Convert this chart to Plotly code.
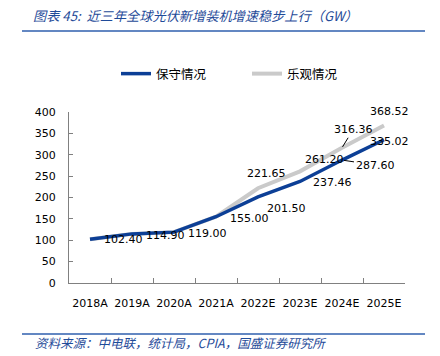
import plotly.graph_objects as go

categories = ["2018A", "2019A", "2020A", "2021A", "2022E", "2023E", "2024E", "2025E"]
conservative = [102.40, 114.90, 119.00, 155.00, 201.50, 237.46, 287.60, 335.02]
optimistic = [102.40, 114.90, 119.00, 155.00, 221.65, 261.20, 316.36, 368.52]
y_ticks = [0, 50, 100, 150, 200, 250, 300, 350, 400]

W, H = 440, 356
BLUE = "#0c3f96"
GRAY = "#cacaca"
TITLE_BLUE = "#1f4b99"
RULE = "#2f5fae"
FONT = "DejaVu Sans"
CJK = "Noto Sans CJK SC"

fig = go.Figure()
fig.add_trace(go.Scatter(x=categories, y=optimistic, mode="lines", name="乐观情况",
                         line=dict(color=GRAY, width=4)))
fig.add_trace(go.Scatter(x=categories, y=conservative, mode="lines", name="保守情况",
                         line=dict(color=BLUE, width=3.5)))

# decorative header/footer rules on a full-figure overlay axis (pixel units)
for yy in (31, 334):
    fig.add_trace(go.Scatter(x=[22, 425], y=[yy, yy], mode="lines", xaxis="x2", yaxis="y2",
                             line=dict(color=RULE, width=1.3), showlegend=False,
                             hoverinfo="skip"))

cons_off = [(33, 0), (33, -2), (33, -1), (33, -2), (28, -12), (32, -1), (33, -5), (5, -2)]
opt_off = [None, None, None, None, (8, 15), (24, 12), (11, 18), (5, 14)]

for i, (c, v) in enumerate(zip(categories, conservative)):
    dx, dy = cons_off[i]
    if c == "2024E":
        fig.add_annotation(x=c, y=v, text=f"{v:.2f}", showarrow=True, ax=dx, ay=-dy,
                           xanchor="center", yanchor="middle",
                           arrowhead=0, arrowwidth=1, arrowcolor="#000000", standoff=2,
                           font=dict(family=FONT, size=11, color="#000000"))
    else:
        fig.add_annotation(x=c, y=v, text=f"{v:.2f}", showarrow=False, xshift=dx, yshift=dy,
                           font=dict(family=FONT, size=11, color="#000000"))
for i, (c, v) in enumerate(zip(categories, optimistic)):
    if opt_off[i] is None:
        continue
    dx, dy = opt_off[i]
    if c == "2024E":
        fig.add_annotation(x=c, y=v, text=f"{v:.2f}", showarrow=True, ax=dx, ay=-dy,
                           xanchor="center", yanchor="middle",
                           arrowhead=0, arrowwidth=1, arrowcolor="#000000", standoff=1,
                           font=dict(family=FONT, size=11, color="#000000"))
    else:
        fig.add_annotation(x=c, y=v, text=f"{v:.2f}", showarrow=False, xshift=dx, yshift=dy,
                           font=dict(family=FONT, size=11, color="#000000"))

fig.add_annotation(xref="paper", yref="paper", x=31 / W, y=1 - 15 / H,
                   xanchor="left", yanchor="middle", showarrow=False,
                   text="图表 45:  近三年全球光伏新增装机增速稳步上行（GW）",
                   font=dict(family=CJK, size=13.2, color=TITLE_BLUE, style="italic"))
fig.add_annotation(xref="paper", yref="paper", x=33 / W, y=1 - 342 / H,
                   xanchor="left", yanchor="middle", showarrow=False,
                   text="资料来源：中电联，统计局，CPIA，国盛证券研究所",
                   font=dict(family=CJK, size=12.5, color=TITLE_BLUE, style="italic"))

fig.update_layout(
    width=W, height=H,
    margin=dict(l=0, r=0, t=0, b=0, pad=0, autoexpand=False),
    paper_bgcolor="white", plot_bgcolor="rgba(0,0,0,0)",
    font=dict(family=FONT, size=11, color="#000000"),
    showlegend=True,
    legend=dict(orientation="h", x=116 / W, y=1 - 74 / H,
                xanchor="left", yanchor="middle", traceorder="reversed",
                font=dict(family=CJK, size=12.5, color="#000000"),
                entrywidth=86, bgcolor="rgba(0,0,0,0)"),
    xaxis=dict(type="category", categoryarray=categories, range=[-0.5, 7.5],
               domain=[69 / W, 405 / W], anchor="y",
               showline=True, linecolor="#808080", linewidth=1, tickangle=0,
               ticks="inside", ticklen=5, tickcolor="#808080", tickson="boundaries",
               showgrid=False, zeroline=False, ticklabelstandoff=10, automargin=False,
               tickfont=dict(family=FONT, size=11)),
    yaxis=dict(range=[0, 400], tickvals=y_ticks, domain=[1 - 283 / H, 1 - 112 / H],
               anchor="x", showline=True, linecolor="#808080",
               linewidth=1, ticks="inside", ticklen=4, tickcolor="#808080",
               showgrid=False, zeroline=False, ticklabelstandoff=10, automargin=False,
               tickfont=dict(family=FONT, size=11)),
    xaxis2=dict(domain=[0, 1], range=[0, W], visible=False, anchor="y2",
                fixedrange=True),
    yaxis2=dict(domain=[0, 1], range=[H, 0], visible=False, anchor="x2",
                fixedrange=True),
)

fig.write_html("out.html", config={"displayModeBar": False},
               post_script="document.body.style.margin='0';document.body.style.overflow='hidden';")
